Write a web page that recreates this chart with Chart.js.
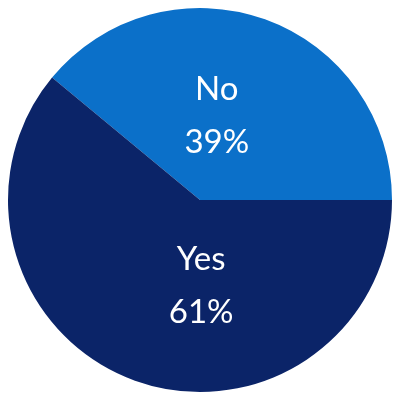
<!DOCTYPE html>
<html>
<head>
<meta charset="utf-8">
<script src="https://cdn.jsdelivr.net/npm/chart.js@4"></script>
<style>
  html, body { margin: 0; padding: 0; background: #ffffff; }
  #wrap { width: 400px; height: 400px; }
</style>
</head>
<body>
<div id="wrap"><canvas id="grafico-pizza" width="400" height="400"></canvas></div>
<script>
// dados do grafico
const respostas = ['No', 'Yes'];
const percentuais = [39, 61];
const cores = ['#0b70c9', '#0b2468'];

// escreve o nome e o percentual dentro de cada fatia
const rotulosPlugin = {
    id: 'rotulos',
    afterDatasetsDraw(chart) {
        const ctx = chart.ctx;
        const meta = chart.getDatasetMeta(0);
        ctx.save();
        ctx.fillStyle = '#ffffff';
        ctx.textAlign = 'center';
        ctx.textBaseline = 'middle';
        ctx.font = '400 33px Lato, "Open Sans", sans-serif';
        meta.data.forEach(function (arco, i) {
            const meio = (arco.startAngle + arco.endAngle) / 2;
            const r = arco.outerRadius;
            const x = arco.x + Math.cos(meio) * r * 0.12 + 9;
            const y = arco.y + Math.sin(meio) * r * 0.47;
            ctx.fillText(respostas[i], x, y - 26);
            ctx.fillText(percentuais[i] + '%', x, y + 27);
        });
        ctx.restore();
    }
};

const total = percentuais.reduce((a, b) => a + b, 0);

new Chart(document.getElementById('grafico-pizza'), {
    type: 'pie',
    data: {
        labels: respostas,
        datasets: [{
            data: percentuais,
            backgroundColor: cores,
            borderWidth: 0
        }]
    },
    options: {
        responsive: false,
        animation: false,
        // a fatia "No" termina na horizontal, a direita do centro
        rotation: 90 - percentuais[0] / total * 360,
        layout: { padding: 8 },
        plugins: {
            legend: { display: false },
            tooltip: { enabled: false }
        }
    },
    plugins: [rotulosPlugin]
});
</script>
</body>
</html>
